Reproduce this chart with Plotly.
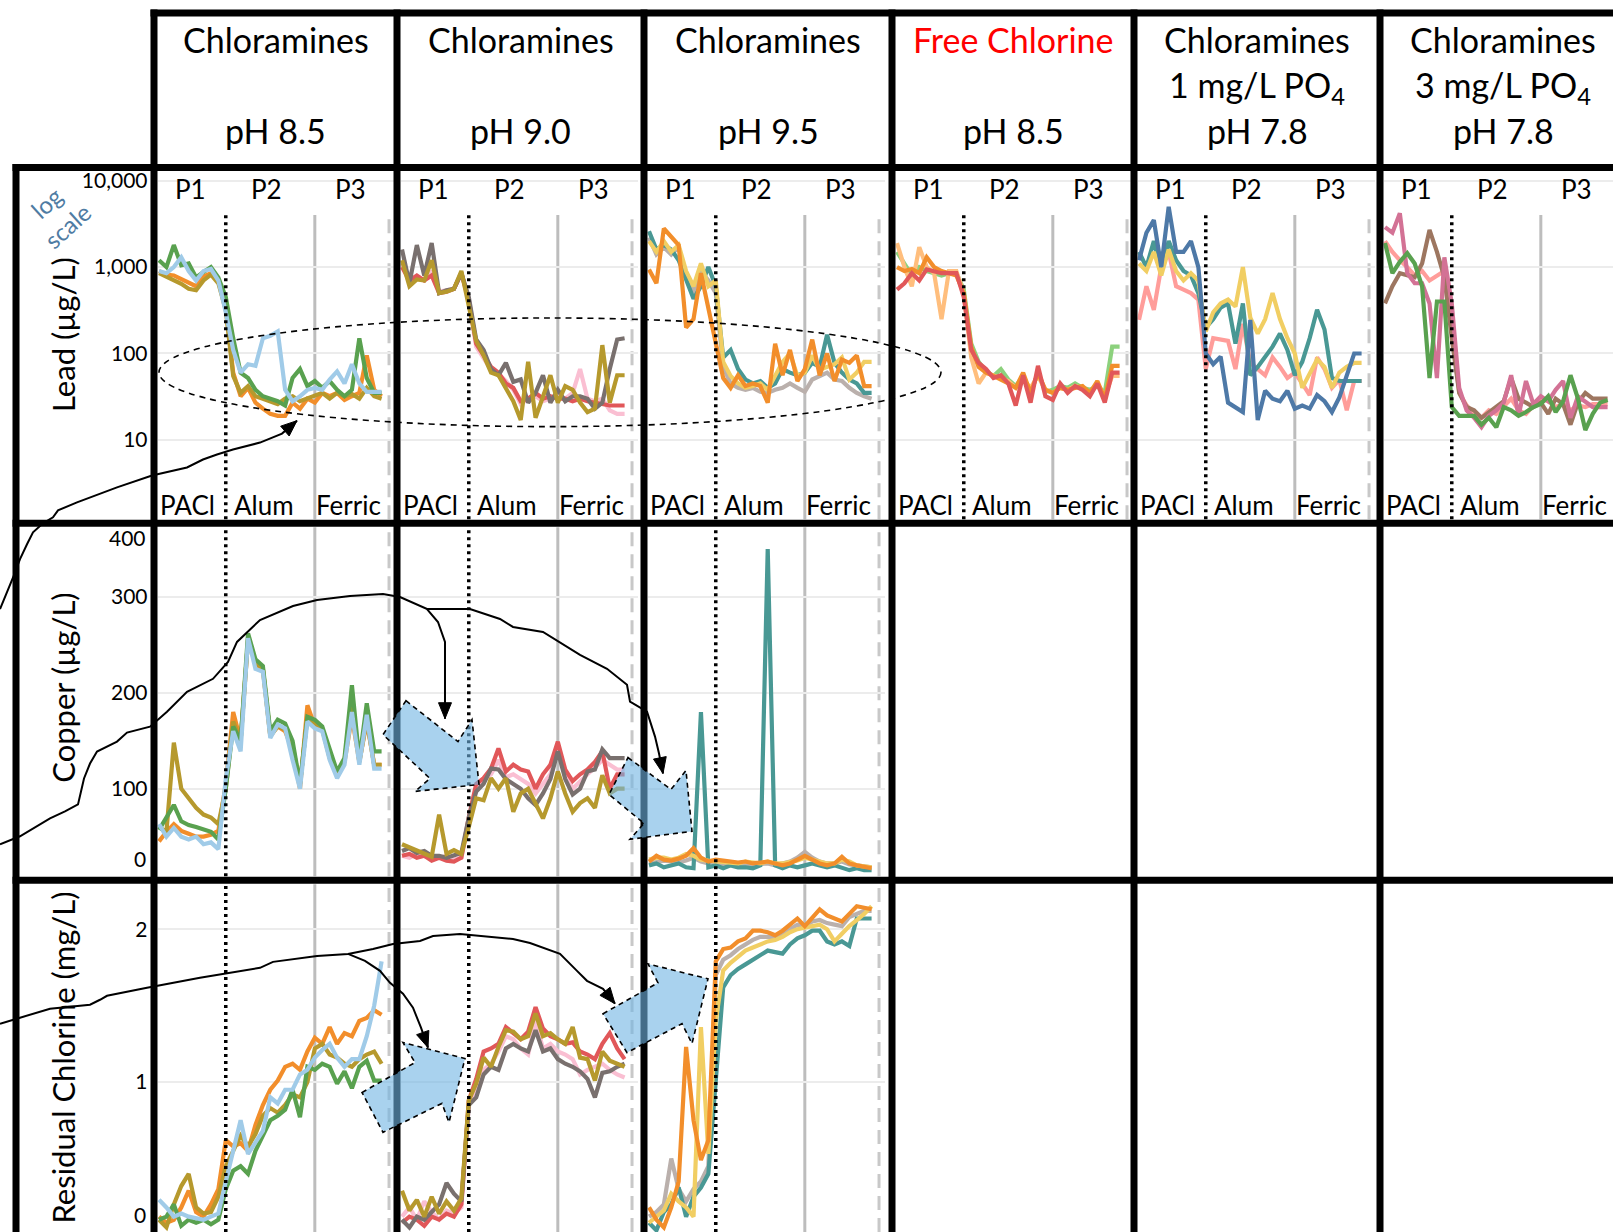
import math
import plotly.graph_objects as go

W, H = 1613, 1232
FONT = "Lato"

# ======================= DATA =======================
SAMPLE = list(range(31))            # sampling events
PHASE_END = [9, 21, 31]             # end of P1 (PACl), P2 (Alum), P3 (Ferric)
PHASE_NAMES = ["P1", "P2", "P3"]
COAGULANTS = ["PACl", "Alum", "Ferric"]

HEADER_LINE1 = ["Chloramines", "Chloramines", "Chloramines", "Free Chlorine", "Chloramines", "Chloramines"]
HEADER_LINE2 = ["", "", "", "", "1 mg/L PO<sub>4</sub>", "3 mg/L PO<sub>4</sub>"]
HEADER_LINE3 = ["pH 8.5", "pH 9.0", "pH 9.5", "pH 8.5", "pH 7.8", "pH 7.8"]
ROW_TITLES = ["Lead (µg/L)", "Copper (µg/L)", "Residual Chlorine (mg/L)"]

LEAD_TICKS = [10, 100, 1000, 10000]
LEAD_TICK_TEXT = ["10", "100", "1,000", "10,000"]
COPPER_TICKS = [0, 100, 200, 300, 400]
COPPER_TICK_TEXT = ["0", "100", "200", "300", "400"]
CHLORINE_TICKS = [0, 1, 2]
CHLORINE_TICK_TEXT = ["0", "1", "2"]

# ---- Lead (µg/L) ----
lead_ph85_orange = [900, 820, 800, 720, 650, 600, 780, 850, 700, 350, 60, 32, 40, 27, 23, 20, 19, 19, 27, 23, 30, 27, 35, 32, 35, 29, 32, 35, 95, 38, 32]
lead_ph85_olive = [850, 780, 700, 640, 560, 540, 700, 820, 650, 320, 55, 35, 42, 32, 30, 28, 26, 30, 32, 28, 30, 32, 35, 30, 35, 32, 34, 30, 40, 32, 30]
lead_ph85_green = [1200, 1000, 1800, 1050, 1100, 760, 880, 1000, 760, 450, 150, 60, 52, 38, 32, 30, 28, 25, 52, 66, 42, 48, 40, 48, 38, 32, 38, 150, 52, 35, 35]
lead_ph85_lblue = [900, 850, 1000, 1300, 900, 700, 900, 950, 700, 300, 110, 60, 75, 72, 150, 160, 180, 38, 28, 32, 38, 40, 38, 50, 62, 45, 75, 45, 36, 36, 36]

lead_ph90_taupe = [1600, 650, 1800, 800, 1900, 500, 540, 560, 850, 450, 145, 110, 66, 56, 78, 47, 50, 27, 35, 56, 27, 38, 28, 32, 32, 30, 23, 27, 66, 145, 150]
lead_ph90_olive = [1200, 600, 720, 700, 1200, 500, 520, 560, 900, 350, 140, 95, 60, 56, 40, 28, 17, 80, 18, 32, 56, 27, 42, 38, 27, 21, 23, 125, 27, 56, 56]
lead_ph90_red = [1000, 700, 800, 700, 800, 500, 520, 560, 850, 420, 130, 95, 70, 60, 45, 40, 28, 30, 35, 30, 32, 30, 30, 28, 30, 28, 27, 26, 25, 25, 25]
lead_ph90_pink = [1100, 650, 750, 700, 900, 520, 540, 560, 850, 400, 120, 90, 65, 58, 48, 38, 26, 30, 32, 28, 30, 32, 30, 35, 66, 30, 28, 30, 22, 20, 20]

lead_ph95_orange = [940, 650, 2800, 2200, 1800, 200, 250, 850, 340, 120, 52, 40, 56, 42, 45, 42, 27, 130, 56, 110, 48, 66, 145, 56, 100, 48, 85, 78, 95, 42, 42]
lead_ph95_teal = [2600, 1600, 1800, 1600, 1200, 700, 430, 600, 1000, 600, 90, 110, 66, 50, 45, 48, 40, 45, 66, 60, 56, 60, 78, 70, 165, 78, 60, 50, 45, 35, 35]
lead_ph95_yellow = [2000, 1500, 2000, 1500, 1800, 900, 600, 1100, 600, 700, 80, 55, 45, 40, 42, 45, 38, 55, 80, 100, 55, 60, 95, 65, 70, 75, 90, 50, 60, 80, 80]
lead_ph95_lgray = [2200, 1400, 1700, 1400, 1700, 800, 500, 900, 700, 500, 70, 45, 40, 38, 40, 36, 35, 38, 40, 45, 40, 36, 50, 55, 60, 50, 48, 40, 35, 32, 30]

lead_free_red = [550, 650, 850, 700, 940, 900, 850, 850, 850, 450, 110, 78, 66, 52, 56, 45, 25, 56, 27, 72, 32, 29, 45, 35, 42, 38, 32, 45, 27, 60, 60]
lead_free_orange = [1000, 900, 950, 850, 1300, 1000, 900, 850, 800, 500, 120, 70, 60, 55, 50, 45, 40, 60, 35, 60, 38, 35, 40, 38, 40, 42, 35, 48, 30, 72, 72]
lead_free_lorange = [1900, 1000, 600, 1700, 1000, 850, 250, 900, 900, 500, 90, 45, 60, 56, 52, 48, 40, 50, 40, 55, 38, 35, 40, 38, 42, 40, 35, 45, 32, 55, 55]
lead_free_lgreen = [1500, 1100, 800, 1000, 900, 850, 800, 850, 850, 550, 130, 80, 62, 55, 66, 50, 42, 55, 35, 60, 36, 38, 42, 40, 45, 40, 38, 42, 35, 120, 120]

lead_po1_blue = [1200, 2500, 3500, 1000, 5000, 1500, 1500, 2000, 1000, 100, 75, 92, 27, 24, 21, 245, 17, 37, 30, 28, 37, 23, 25, 23, 33, 28, 21, 31, 56, 100, 100]
lead_po1_teal = [1500, 1000, 2000, 900, 2000, 1200, 900, 800, 500, 200, 250, 340, 380, 130, 380, 56, 70, 90, 120, 170, 110, 56, 80, 150, 320, 190, 52, 48, 48, 48, 48]
lead_po1_yellow = [1100, 900, 1500, 800, 1600, 900, 700, 850, 700, 180, 300, 380, 420, 350, 1000, 260, 170, 250, 500, 250, 150, 100, 40, 60, 85, 70, 40, 60, 70, 78, 78]
lead_po1_salmon = [245, 600, 320, 1000, 1500, 600, 550, 500, 420, 66, 150, 145, 140, 66, 220, 78, 66, 56, 90, 70, 52, 60, 45, 33, 90, 66, 40, 50, 22, 48, 48]

lead_po3_magenta = [2900, 2500, 4200, 850, 650, 650, 380, 52, 1300, 380, 40, 22, 18, 14, 19, 22, 27, 56, 19, 48, 26, 32, 28, 38, 48, 18, 32, 28, 24, 24, 24]
lead_po3_brown = [380, 600, 850, 800, 760, 1100, 2700, 1500, 760, 150, 35, 24, 22, 18, 21, 24, 28, 52, 30, 27, 24, 27, 20, 30, 26, 15, 27, 35, 30, 30, 30]
lead_po3_salmon = [2000, 1500, 1200, 1000, 800, 900, 700, 800, 900, 200, 35, 25, 20, 18, 22, 20, 25, 30, 22, 20, 25, 30, 28, 24, 26, 22, 25, 24, 26, 26, 26]
lead_po3_green = [1900, 850, 1150, 1450, 1100, 600, 52, 400, 400, 24, 19, 19, 19, 15, 18, 14, 24, 22, 19, 21, 24, 26, 32, 21, 28, 56, 30, 13, 20, 27, 29]

# ---- Copper (µg/L) ----
cu_ph85_orange = [45, 55, 63, 56, 53, 50, 50, 52, 56, 105, 180, 150, 255, 230, 225, 155, 165, 160, 140, 100, 187, 165, 162, 135, 118, 128, 175, 128, 170, 125, 125]
cu_ph85_olive = [60, 55, 148, 100, 90, 80, 73, 70, 63, 100, 170, 150, 255, 232, 225, 155, 165, 162, 145, 105, 175, 168, 162, 132, 115, 130, 190, 128, 172, 125, 125]
cu_ph85_green = [57, 70, 83, 66, 62, 60, 57, 55, 47, 100, 165, 150, 262, 235, 228, 160, 172, 168, 150, 105, 175, 172, 165, 140, 118, 132, 208, 130, 189, 139, 139]
cu_ph85_lblue = [63, 50, 59, 50, 47, 50, 42, 44, 37, 110, 160, 139, 257, 225, 222, 153, 167, 163, 130, 100, 170, 163, 160, 130, 111, 125, 180, 125, 177, 121, 121]

cu_ph90_olive = [42, 39, 36, 32, 29, 73, 32, 36, 32, 60, 90, 88, 111, 100, 111, 76, 95, 100, 85, 69, 90, 118, 95, 76, 85, 90, 80, 114, 95, 100, 100]
cu_ph90_red = [30, 32, 28, 30, 25, 28, 25, 24, 28, 70, 105, 111, 121, 142, 118, 125, 120, 118, 100, 115, 125, 149, 120, 108, 115, 120, 128, 139, 100, 115, 115]
cu_ph90_taupe = [35, 38, 33, 35, 30, 30, 28, 30, 33, 70, 97, 105, 121, 120, 110, 105, 100, 90, 83, 95, 110, 139, 110, 94, 100, 118, 120, 141, 132, 132, 132]
cu_ph90_pink = [30, 28, 32, 30, 27, 28, 30, 26, 28, 65, 100, 108, 115, 130, 112, 115, 110, 105, 95, 105, 115, 140, 115, 100, 108, 115, 122, 130, 125, 120, 120]

cu_ph95_teal = [20, 22, 18, 20, 22, 18, 17, 180, 18, 20, 17, 20, 18, 18, 17, 20, 350, 20, 17, 20, 18, 20, 22, 20, 18, 20, 17, 15, 17, 15, 15]
cu_ph95_orange = [24, 30, 26, 25, 27, 30, 38, 28, 24, 26, 25, 24, 23, 24, 22, 23, 24, 22, 20, 22, 26, 30, 26, 22, 20, 22, 29, 22, 20, 18, 17]
cu_ph95_yellow = [26, 28, 28, 26, 28, 32, 30, 26, 25, 24, 24, 23, 22, 24, 23, 22, 24, 22, 22, 23, 25, 28, 26, 23, 22, 22, 26, 24, 20, 19, 18]
cu_ph95_lgray = [22, 24, 25, 24, 23, 25, 28, 24, 22, 22, 21, 22, 22, 20, 21, 21, 22, 20, 22, 24, 28, 34, 28, 24, 22, 22, 24, 21, 20, 19, 18]

# ---- Residual chlorine (mg/L) ----
cl_ph85_orange = [0.12, 0.08, 0.10, 0.18, 0.29, 0.15, 0.12, 0.20, 0.30, 0.62, 0.58, 0.60, 0.55, 0.72, 0.85, 0.95, 1.01, 1.10, 1.12, 1.08, 1.20, 1.29, 1.25, 1.36, 1.25, 1.32, 1.30, 1.40, 1.42, 1.47, 1.44]
cl_ph85_olive = [0.10, 0.05, 0.20, 0.32, 0.40, 0.18, 0.14, 0.15, 0.25, 0.45, 0.55, 0.65, 0.58, 0.66, 0.78, 0.83, 0.80, 0.85, 0.92, 0.90, 1.00, 1.22, 1.25, 1.18, 1.16, 1.12, 1.10, 1.15, 1.18, 1.20, 1.12]
cl_ph85_green = [0.10, 0.12, 0.20, 0.06, 0.10, 0.08, 0.10, 0.07, 0.10, 0.30, 0.42, 0.45, 0.40, 0.55, 0.65, 0.75, 0.78, 0.82, 0.95, 0.77, 1.10, 1.08, 1.12, 1.10, 0.99, 1.07, 0.96, 1.10, 1.14, 1.01, 1.01]
cl_ph85_lblue = [0.23, 0.18, 0.12, 0.14, 0.12, 0.11, 0.10, 0.12, 0.14, 0.35, 0.55, 0.75, 0.53, 0.60, 0.68, 0.90, 0.86, 0.95, 0.95, 1.05, 1.08, 1.16, 1.21, 1.25, 1.16, 1.10, 1.15, 1.15, 1.30, 1.50, 1.79]

cl_ph90_olive = [0.29, 0.16, 0.23, 0.12, 0.25, 0.14, 0.22, 0.16, 0.24, 0.88, 0.99, 1.16, 1.10, 1.23, 1.34, 1.33, 1.28, 1.30, 1.45, 1.30, 1.32, 1.28, 1.25, 1.36, 1.16, 1.15, 1.01, 1.20, 1.14, 1.12, 1.10]
cl_ph90_taupe = [0.10, 0.05, 0.12, 0.10, 0.15, 0.20, 0.34, 0.27, 0.22, 0.85, 0.90, 1.05, 1.10, 1.08, 1.22, 1.25, 1.22, 1.20, 1.34, 1.20, 1.22, 1.15, 1.12, 1.10, 1.07, 1.02, 0.90, 1.06, 1.07, 1.10, 1.12]
cl_ph90_red = [0.08, 0.12, 0.10, 0.06, 0.12, 0.10, 0.14, 0.12, 0.20, 0.88, 1.02, 1.20, 1.22, 1.25, 1.36, 1.32, 1.28, 1.33, 1.49, 1.35, 1.30, 1.28, 1.25, 1.26, 1.20, 1.18, 1.15, 1.25, 1.32, 1.22, 1.15]
cl_ph90_pink = [0.12, 0.18, 0.10, 0.22, 0.15, 0.10, 0.16, 0.14, 0.18, 0.85, 0.97, 1.08, 1.12, 1.20, 1.30, 1.28, 1.22, 1.18, 1.40, 1.22, 1.25, 1.20, 1.18, 1.15, 1.05, 1.08, 1.10, 1.12, 1.08, 1.05, 1.03]

cl_ph95_orange = [0.18, 0.10, 0.05, 0.18, 0.35, 1.23, 0.75, 0.49, 0.62, 1.79, 1.87, 1.88, 1.92, 1.94, 1.99, 1.99, 1.98, 1.96, 1.99, 2.03, 2.07, 2.02, 2.08, 2.13, 2.09, 2.07, 2.05, 2.10, 2.15, 2.14, 2.13]
cl_ph95_yellow = [0.08, 0.12, 0.16, 0.27, 0.22, 0.18, 0.12, 1.36, 0.53, 1.40, 1.73, 1.78, 1.82, 1.86, 1.88, 1.90, 1.92, 1.93, 1.95, 1.98, 2.00, 2.01, 2.02, 2.03, 2.00, 1.92, 1.97, 2.02, 2.06, 2.10, 2.15]
cl_ph95_teal = [0.08, 0.03, 0.15, 0.20, 0.31, 0.12, 0.25, 0.31, 0.40, 1.00, 1.62, 1.70, 1.74, 1.77, 1.80, 1.83, 1.86, 1.85, 1.84, 1.90, 1.94, 1.96, 1.99, 1.99, 1.92, 1.90, 1.92, 1.89, 2.07, 2.07, 2.07]
cl_ph95_lgray = [0.12, 0.15, 0.20, 0.50, 0.30, 0.22, 0.30, 0.35, 0.45, 1.70, 1.80, 1.83, 1.87, 1.90, 1.93, 1.95, 1.95, 1.94, 1.97, 2.00, 2.03, 2.02, 2.05, 2.06, 2.04, 2.03, 2.02, 2.08, 2.10, 2.12, 2.12]

# ======================= STYLE =======================
C_ORANGE, C_OLIVE, C_GREEN, C_LBLUE = "#F28E2B", "#B6992D", "#59A14F", "#A0CBE8"
C_RED, C_PINK, C_TAUPE = "#E15759", "#FABFD2", "#79706E"
C_TEAL, C_YELLOW, C_LGRAY = "#499894", "#F1CE63", "#BAB0AC"
C_LGREEN, C_LORANGE = "#8CD17D", "#FFBE7D"
C_BLUE, C_SALMON, C_MAGENTA, C_BROWN = "#4E79A7", "#FF9D9A", "#D37295", "#9D7660"

PANELS = [
    (0, 0, [(lead_ph85_orange, C_ORANGE), (lead_ph85_olive, C_OLIVE), (lead_ph85_green, C_GREEN), (lead_ph85_lblue, C_LBLUE)]),
    (0, 1, [(lead_ph90_pink, C_PINK), (lead_ph90_red, C_RED), (lead_ph90_taupe, C_TAUPE), (lead_ph90_olive, C_OLIVE)]),
    (0, 2, [(lead_ph95_lgray, C_LGRAY), (lead_ph95_teal, C_TEAL), (lead_ph95_yellow, C_YELLOW), (lead_ph95_orange, C_ORANGE)]),
    (0, 3, [(lead_free_lgreen, C_LGREEN), (lead_free_lorange, C_LORANGE), (lead_free_orange, C_ORANGE), (lead_free_red, C_RED)]),
    (0, 4, [(lead_po1_salmon, C_SALMON), (lead_po1_teal, C_TEAL), (lead_po1_yellow, C_YELLOW), (lead_po1_blue, C_BLUE)]),
    (0, 5, [(lead_po3_salmon, C_SALMON), (lead_po3_brown, C_BROWN), (lead_po3_magenta, C_MAGENTA), (lead_po3_green, C_GREEN)]),
    (1, 0, [(cu_ph85_orange, C_ORANGE), (cu_ph85_olive, C_OLIVE), (cu_ph85_green, C_GREEN), (cu_ph85_lblue, C_LBLUE)]),
    (1, 1, [(cu_ph90_pink, C_PINK), (cu_ph90_red, C_RED), (cu_ph90_taupe, C_TAUPE), (cu_ph90_olive, C_OLIVE)]),
    (1, 2, [(cu_ph95_lgray, C_LGRAY), (cu_ph95_teal, C_TEAL), (cu_ph95_yellow, C_YELLOW), (cu_ph95_orange, C_ORANGE)]),
    (2, 0, [(cl_ph85_orange, C_ORANGE), (cl_ph85_olive, C_OLIVE), (cl_ph85_green, C_GREEN), (cl_ph85_lblue, C_LBLUE)]),
    (2, 1, [(cl_ph90_pink, C_PINK), (cl_ph90_red, C_RED), (cl_ph90_taupe, C_TAUPE), (cl_ph90_olive, C_OLIVE)]),
    (2, 2, [(cl_ph95_lgray, C_LGRAY), (cl_ph95_teal, C_TEAL), (cl_ph95_yellow, C_YELLOW), (cl_ph95_orange, C_ORANGE)]),
]

COL_B = [154, 397, 644, 892, 1134, 1380]
ROW_PX = [(168, 517), (525, 875), (883, 1232)]
XS = 7.42  # px per sample
TICKS = [(LEAD_TICKS, LEAD_TICK_TEXT), (COPPER_TICKS, COPPER_TICK_TEXT), (CHLORINE_TICKS, CHLORINE_TICK_TEXT)]
PHASE_LABEL_POS = [4.2, 14.5, 25.8]
TICK_FONT = dict(family=FONT, size=21, color="black")


def X(px):
    return px / W


def Y(py):
    return 1 - py / H


def y_range(row):
    top, bot = ROW_PX[row]
    if row == 0:
        return [1 + (437.3 - bot) / 86.67, 1 + (437.3 - top) / 86.67]
    if row == 1:
        return [(883.4 - bot) / 0.9615, (883.4 - top) / 0.9615]
    return [(1235 - bot) / 153.4, (1235 - top) / 153.4]


def text(x, y, t, size, color="black", angle=0, xanchor="center", yanchor="middle", **kw):
    d = dict(x=x, y=y, text=t, showarrow=False, xanchor=xanchor, yanchor=yanchor, textangle=angle,
             font=dict(family=FONT, size=size, color=color))
    d.setdefault("xref", "paper")
    d.setdefault("yref", "paper")
    d.update(kw)
    return d


fig = go.Figure()
shapes, annotations = [], []
layout_axes = {}

for k, (row, col, series) in enumerate(PANELS, start=1):
    b = COL_B[col]
    x0p, x1p = b + 3.5, min(b + 240.5, W)
    xr = [(x0p - b - 5) / XS, (x1p - b - 5) / XS]
    top, bot = ROW_PX[row]
    yr = y_range(row)
    sfx = "" if k == 1 else str(k)
    tv, tt = TICKS[row]
    layout_axes["xaxis" + sfx] = dict(domain=[X(x0p), X(x1p)], range=xr, visible=False,
                                      anchor="y" + sfx, fixedrange=True)
    layout_axes["yaxis" + sfx] = dict(
        domain=[Y(bot), Y(top)], range=yr, type="log" if row == 0 else "linear",
        anchor="x" + sfx, tickmode="array", tickvals=tv, ticktext=tt,
        showticklabels=(col == 0), showgrid=True, gridcolor="#ececec", gridwidth=1.5,
        zeroline=False, showline=False, ticks="", ticklabelstandoff=9,
        tickfont=TICK_FONT, fixedrange=True)
    for vals, color in series:
        fig.add_trace(go.Scatter(x=SAMPLE, y=vals, mode="lines", line=dict(color=color, width=4.2),
                                 xaxis="x" + sfx, yaxis="y" + sfx, hoverinfo="skip", showlegend=False))
    # phase boundary lines
    ytop = 0.875 if row == 0 else 1
    ydr = "y" + sfx + " domain"
    shapes.append(dict(type="line", xref="x" + sfx, yref=ydr, x0=PHASE_END[1], x1=PHASE_END[1], y0=0, y1=ytop,
                       line=dict(color="#bdbdbd", width=3), layer="below"))
    shapes.append(dict(type="line", xref="x" + sfx, yref=ydr, x0=PHASE_END[2], x1=PHASE_END[2], y0=0, y1=ytop,
                       line=dict(color="#c8c8c8", width=3, dash="14px,8px"), layer="below"))
    shapes.append(dict(type="line", xref="x" + sfx, yref=ydr, x0=PHASE_END[0], x1=PHASE_END[0], y0=0, y1=ytop,
                       line=dict(color="black", width=3.5, dash="3px,4px"), layer="above"))
    if row == 0:
        for j in range(3):
            annotations.append(text(PHASE_LABEL_POS[j], Y(186), PHASE_NAMES[j], 26, xref="x" + sfx))
            annotations.append(text(PHASE_LABEL_POS[j] - 0.3, Y(503), COAGULANTS[j], 26, xref="x" + sfx))
    # tick labels that fall outside the visible panel are pinned to its edge
    if col == 0:
        for v, t in zip(tv, tt):
            pos = math.log10(v) if row == 0 else v
            if pos > yr[1]:
                annotations.append(text(X(148), Y(top), t, 21, xanchor="right", yanchor="top", yshift=4))
            elif pos < yr[0]:
                annotations.append(text(X(148), Y(bot), t, 21, xanchor="right", yanchor="bottom", yshift=3))

# ---------- header ----------
col_centers = [(COL_B[i] + (COL_B[i + 1] if i + 1 < len(COL_B) else COL_B[i] + 246)) / 2 for i in range(6)]
for i in range(6):
    annotations.append(text(X(col_centers[i]), Y(36), HEADER_LINE1[i], 34, color="#ff0000" if i == 3 else "black"))
    if HEADER_LINE2[i]:
        annotations.append(text(X(col_centers[i]), Y(83), HEADER_LINE2[i], 34))
    annotations.append(text(X(col_centers[i]), Y(127), HEADER_LINE3[i], 34))

# ---------- row titles ----------
for title, yc in zip(ROW_TITLES, [332, 686, 1057]):
    annotations.append(text(X(63), Y(yc), title, 31, angle=-90))
annotations.append(text(X(57), Y(211), "log<br>scale", 24, color="#4f7ca3", angle=-42))

# ---------- grid borders ----------
BW = 7


def hline(y, xa, xb):
    shapes.append(dict(type="line", xref="paper", yref="paper", x0=X(xa), x1=X(xb), y0=Y(y), y1=Y(y),
                       line=dict(color="black", width=BW), layer="above"))


def vline(x, ya, yb):
    shapes.append(dict(type="line", xref="paper", yref="paper", x0=X(x), x1=X(x), y0=Y(ya), y1=Y(yb),
                       line=dict(color="black", width=BW), layer="above"))


hline(9, 150.5, W)
hline(164, 12.5, W)
hline(521, 12.5, W)
hline(879, 12.5, W)
vline(16, 160.5, H)
for xb in COL_B:
    vline(xb, 5.5, H)

# ---------- annotations: ellipse, curves, arrows ----------
shapes.append(dict(type="circle", xref="paper", yref="paper", x0=X(159), x1=X(941), y0=Y(315), y1=Y(424),
                   line=dict(color="black", width=1.6, dash="6px,5px"), layer="above"))


def path_str(pts, close=False):
    s = "M " + " L ".join(f"{X(px):.5f},{Y(py):.5f}" for px, py in pts)
    return s + (" Z" if close else "")


def curve(pts, tip):
    shapes.append(dict(type="path", xref="paper", yref="paper", path=path_str(pts + [tip]),
                       line=dict(color="black", width=2), layer="above"))
    px, py = pts[-1]
    tx, ty = tip
    dx, dy = tx - px, ty - py
    n = (dx * dx + dy * dy) ** 0.5
    ux, uy = dx / n, dy / n
    L, hw = 16, 6.5
    bx, by = tx - ux * L, ty - uy * L
    tri = [(tx, ty), (bx - uy * hw, by + ux * hw), (bx + uy * hw, by - ux * hw)]
    shapes.append(dict(type="path", xref="paper", yref="paper", path=path_str(tri, True),
                       fillcolor="black", line=dict(color="black", width=1), layer="above"))


curve([(0, 607), (7, 590), (14, 573), (20, 557), (27, 542), (33, 530), (43, 521), (53, 515), (58, 508), (77, 500),
       (117, 485), (152, 473), (187, 465), (203, 457), (217, 452), (233, 447), (260, 440), (282, 431)], (297, 418))
curve([(0, 843), (20, 835), (50, 817), (65, 810), (78, 803), (81, 790), (84, 777), (90, 762), (97, 750), (117, 740),
       (127, 731), (150, 725), (167, 710), (187, 690), (213, 677), (228, 660), (237, 640), (260, 618), (293, 604),
       (317, 598), (350, 594), (383, 592), (400, 595), (427, 607), (470, 607), (500, 617), (513, 625), (543, 630),
       (580, 653), (607, 667), (627, 683), (630, 700), (647, 710), (655, 735), (659, 752)], (663, 772))
curve([(427, 607), (438, 620), (445, 640), (445, 698)], (445, 717))
curve([(0, 1023), (20, 1017), (50, 1008), (90, 1004), (100, 999), (107, 995), (147, 987), (200, 977), (260, 967),
       (273, 961), (317, 955), (348, 953), (373, 948), (393, 943), (420, 940), (433, 935), (460, 933), (513, 938),
       (530, 942), (560, 953), (577, 970), (587, 980), (603, 988)], (615, 1003))
curve([(348, 953), (365, 960), (380, 970), (390, 982), (403, 993), (413, 1007), (421, 1027)], (428, 1047))

BLOCK_ARROWS = [
    [(406, 699), (458, 740), (472, 718), (479, 783), (415, 790), (430, 777), (383, 733)],
    [(628, 756), (671, 788), (686, 769), (692, 830), (630, 838), (644, 822), (609, 793)],
    [(362, 1092), (415, 1062), (403, 1042), (465, 1058), (449, 1122), (442, 1103), (383, 1132)],
    [(603, 1013), (658, 982), (648, 963), (708, 978), (692, 1043), (682, 1023), (627, 1052)],
]
for poly in BLOCK_ARROWS:
    shapes.append(dict(type="path", xref="paper", yref="paper", path=path_str(poly, True),
                       fillcolor="rgba(112,180,227,0.6)", line=dict(color="black", width=1.6, dash="5px,4px"),
                       layer="above"))

fig.update_layout(
    width=W, height=H, margin=dict(l=0, r=0, t=0, b=0),
    paper_bgcolor="white", plot_bgcolor="rgba(0,0,0,0)",
    showlegend=False, shapes=shapes, annotations=annotations,
    font=dict(family=FONT, color="black"),
    **layout_axes,
)
fig.write_html("out.html")
